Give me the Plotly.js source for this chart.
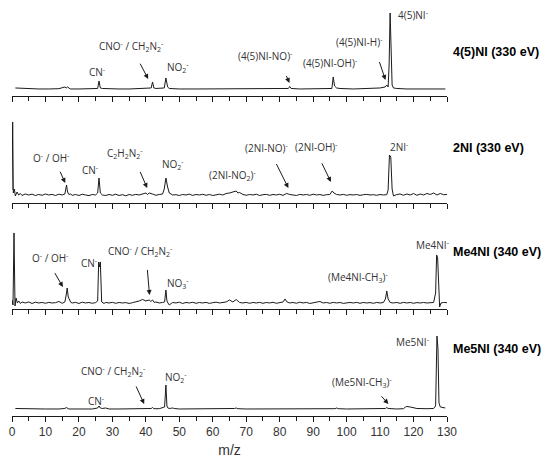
<!DOCTYPE html>
<html>
<head>
<meta charset="utf-8">
<script src="https://cdn.plot.ly/plotly-3.0.1.min.js"></script>
<style>
  html, body { margin: 0; padding: 0; background: #fff; }
  #plot { width: 550px; height: 465px; }
</style>
</head>
<body>
<div id="plot"></div>
<script>
// spectra: [m/z, intensity] (arbitrary units, baseline = 0)
const spec45NI = [[1,1],[3,0.5],[5,0],[8,0],[11,0],[14,0.3],[15.8,2],[16.2,1],[16.6,2],[17,0.5],[17.4,0],[20,0],[24,0],
  [25.6,0.5],[26,8],[26.4,1],[27,0.5],[29,0],[32,0],[35,0],[38,0.5],[40,0.5],[41.6,1],[42,7],[42.4,1],[43,0.5],
  [45.5,1],[46,11],[46.5,2],[47,0.5],[50,0],[55,0],[60,0],[65,0.5],[70,0],[75,0],[80,0],[82.6,0.5],[83,2.5],[83.4,0.5],
  [86,0],[90,0],[95.6,0.5],[96,12],[96.4,3],[97,1],[98,0.5],[102,0],[106,0.5],[110,1],[111.5,2],[112,4],[112.4,2],
  [112.7,24],[113,76],[113.3,24],[113.6,4],[114,1],[115,0.5],[118,0],[122,0],[126,0],[129.5,0]];

const spec2NI = [[0,5],[0.2,73],[0.4,2],[0.7,6],[1,-1],[1.5,3],[2,0],[2.5,1.5],[3,-0.5],[4,1],[5,0],[6,0.8],[7,-0.5],
  [8,0.5],[9,-0.3],[10,1],[11,0],[12,0.6],[13,-0.5],[14,0.8],[15,0],[15.8,1],[16.3,10],[16.6,3],[17,0.5],[17.5,1],
  [18,-0.3],[19,0.5],[20,-0.5],[21,0.7],[22,0],[23,-0.6],[24,0.5],[25,0],[25.6,2],[26,17],[26.4,2],[27,0],[28,-0.5],
  [29,0.5],[30,-0.3],[31,0.8],[32,-0.5],[33,0.3],[34,-0.8],[35,0.5],[36,-0.3],[37,0.6],[38,0],[39,1],[40,2],[40.5,0.5],
  [41,2],[42,1],[43,-0.3],[44,0.5],[45,1],[45.5,6],[46,17],[46.5,8],[47,2],[48,0],[49,0.3],[50,-0.5],[51,0.5],[52,0],
  [53,0.8],[54,-0.4],[55,0.5],[56,0],[57,0.7],[58,-0.3],[59,0.5],[60,-0.5],[61,0.3],[62,0.8],[63,0],[64,1.5],[65,2],
  [66,3],[67,4],[67.5,2],[68,2.5],[69,0.5],[70,-0.3],[71,0.5],[72,0],[73,0.8],[74,-0.5],[75,0.3],[76,0.6],[77,-0.3],
  [78,0.5],[79,0],[80,0.7],[81,-0.4],[82,1.5],[83,0.5],[84,0.3],[85,-0.5],[86,0.6],[87,0],[88,0.5],[89,-0.3],[90,0.8],
  [91,0],[92,0.5],[93,-0.4],[94,0.3],[95,0.5],[95.7,4],[96.2,2],[97,0.5],[98,0],[99,0.6],[100,-0.3],[101,0.4],[102,0],
  [103,0.5],[104,-0.4],[105,0.3],[106,0.6],[107,0],[108,0.3],[109,-0.3],[110,0.5],[111,0],[112,0.3],[112.4,5],
  [112.8,40],[113.2,38],[113.6,6],[114,-1],[115,0.5],[116,1],[117,-0.3],[118,1],[119,0],[120,1.5],[121,-0.3],[122,1],
  [123,0],[124,1.5],[125,0.5],[126,2],[127,0],[128,1.5],[129,0.3],[130,0.5]];

const specMe4NI = [[0,3],[0.3,-2],[0.6,70],[0.9,-3],[1.2,5],[1.6,0],[2,2],[2.5,-0.5],[3,1],[4,0],[5,1],[6,-0.5],[7,0.8],
  [8,0],[9,0.5],[10,-0.3],[11,0.6],[12,0],[13,0.3],[14,1.5],[15,-0.3],[15.8,1],[16.2,8],[16.5,15],[16.8,6],[17.2,3],
  [17.6,0.5],[18,0],[19,0.6],[20,-0.5],[21,0.8],[22,0],[23,0.5],[24,-0.3],[25,0.4],[25.6,2],[25.9,41],[26.1,36],
  [26.4,41],[26.8,1],[27.5,-0.5],[28,0.5],[29,0],[30,0.6],[31,-0.3],[32,0.5],[33,0],[34,0.4],[35,-0.5],[36,0.3],[37,1],
  [38,2],[39,3.5],[40,2],[41,3],[41.5,1.5],[42,3],[42.5,0.5],[43,1],[44,0],[45,0.5],[45.6,1],[46,13],[46.3,2],[46.6,0],
  [47,-2],[48,0.5],[49,0],[50,0.8],[51,-0.5],[52,0.5],[53,0],[54,0.7],[55,-0.3],[56,0.5],[57,0],[58,0.6],[59,-0.4],
  [60,0.3],[61,0.8],[62,0],[63,0.5],[64,1],[65,3],[66,1],[67,3.5],[68,0.5],[69,0],[70,0.6],[71,-0.3],[72,0.5],[73,0],
  [74,0.6],[75,-0.3],[76,0.5],[77,0],[78,0.7],[79,-0.3],[80,0.5],[81,1],[81.6,4],[82.2,1],[83,0],[84,0.5],[85,-0.3],
  [86,0.8],[87,0],[88,0.6],[89,-0.5],[90,0.4],[91,0.6],[92,1.5],[93,0],[94,0.5],[95,-0.3],[96,0.6],[97,0],[98,0.5],
  [99,-0.4],[100,0.3],[101,0.5],[102,0],[103,0.6],[104,-0.3],[105,0.5],[106,0],[107,0.4],[108,-0.3],[109,0.5],[110,0],
  [111,0.5],[111.6,4],[112,12],[112.4,4],[113,0.5],[114,0],[115,0.5],[116,-0.3],[117,0.6],[118,0],[119,0.5],[120,-0.3],
  [121,0.4],[122,0],[123,0.5],[124,0],[125,0.3],[126,0.5],[126.6,10],[126.9,48],[127.2,45],[127.5,8],[127.8,-4],
  [128.2,0],[129,0.5],[130,0.3]];

const specMe5NI = [[1,0.5],[5,0],[10,0],[14,0],[15.8,0.5],[16.2,1.5],[16.6,1],[17,0],[20,0],[24,0],[25.6,1],[26,3],
  [26.4,1],[27,0.5],[28,1],[29,0],[32,0],[36,0],[40,0],[41.6,0.5],[42,1.5],[42.4,0.3],[44,0.3],[45.6,2],[46,24],[46.3,3],
  [46.6,1],[47,0.5],[48,1],[48.5,0.5],[50,0],[55,0],[60,0],[66.5,0.5],[67,1],[67.5,0.3],[70,0],[75,0],[80,0],[84,0.5],
  [85,0],[90,0],[96.5,0.3],[97,1],[97.5,0.3],[100,0],[105,0],[110,0],[111.6,0.5],[112,1.5],[112.4,0.5],[115,0],
  [117,0.3],[117.6,2],[118,2.5],[119,2],[120,1.5],[121,0.5],[124,0.3],[126,0.5],[126.6,3],[127,73],[127.3,60],
  [127.6,6],[128,2],[128.5,1.5],[129.5,1]];

const panelNames = ['4(5)NI (330 eV)', '2NI (330 eV)', 'Me4NI (340 eV)', 'Me5NI (340 eV)'];

// peak labels per panel: [text, m/z, height]
const labels45NI = [['CN<sup>-</sup>',25.5,17],['CNO<sup>-</sup> / CH<sub>2</sub>N<sub>2</sub><sup>-</sup>',35.6,42],
  ['NO<sub>2</sub><sup>-</sup>',49.5,21],['(4(5)NI-NO)<sup>-</sup>',75.5,33],['(4(5)NI-OH)<sup>-</sup>',95.1,26],
  ['(4(5)NI-H)<sup>-</sup>',103.6,47],['4(5)NI<sup>-</sup>',119.9,74]];
const labels2NI = [['O<sup>-</sup> / OH<sup>-</sup>',11.7,37],['CN<sup>-</sup>',23.4,25],
  ['C<sub>2</sub>H<sub>2</sub>N<sub>2</sub><sup>-</sup>',33.9,42],['NO<sub>2</sub><sup>-</sup>',48,31],
  ['(2NI-NO<sub>2</sub>)<sup>-</sup>',65.8,20],['(2NI-NO)<sup>-</sup>',76,47],['(2NI-OH)<sup>-</sup>',91,48],
  ['2NI<sup>-</sup>',115.6,48]];
const labelsMe4NI = [['O<sup>-</sup> / OH<sup>-</sup>',11.3,45],['CN<sup>-</sup>',23.1,40],
  ['CNO<sup>-</sup> / CH<sub>2</sub>N<sub>2</sub><sup>-</sup>',38.3,51],['NO<sub>3</sub><sup>-</sup>',49.7,19],
  ['(Me4NI-CH<sub>3</sub>)<sup>-</sup>',103.3,25],['Me4NI<sup>-</sup>',125.6,58]];
const labelsMe5NI = [['CN<sup>-</sup>',25.2,8],['CNO<sup>-</sup> / CH<sub>2</sub>N<sub>2</sub><sup>-</sup>',30.3,37],
  ['NO<sub>2</sub><sup>-</sup>',49.1,31],['(Me5NI-CH<sub>3</sub>)<sup>-</sup>',104.7,26],['Me5NI<sup>-</sup>',119.7,67]];

// arrows: [m/z of head, height of head, tail dx, tail dy]
const arrows45NI = [[40.7,10,-11,-21],[82.9,6,-6,-14],[111.6,9,-9,-27]];
const arrows2NI = [[15.9,12,-8,-18],[40.4,7,-10,-23],[82.6,7,-15,-30],[95.3,13,-12,-25]];
const arrowsMe4NI = [[15.2,16,-11,-19],[41.1,8,-3,-35]];
const arrowsMe5NI = [[39.5,5,-11,-24],[112.5,5,-10,-11]];

const spectra = [spec45NI, spec2NI, specMe4NI, specMe5NI];
const peakLabels = [labels45NI, labels2NI, labelsMe4NI, labelsMe5NI];
const peakArrows = [arrows45NI, arrows2NI, arrowsMe4NI, arrowsMe5NI];

const domains = [[0.77, 1.0], [0.513, 0.736], [0.257, 0.466], [0, 0.207]];
const yRanges = [[-6.7, 89], [-7.6, 85.2], [-6.1, 80.8], [-7, 79.1]];
const nameY = [0.897, 0.644, 0.394, 0.139];

const data = [];
const layout = {
  width: 550,
  height: 465,
  margin: {l: 12, r: 103, t: 0, b: 49},
  paper_bgcolor: '#fff',
  plot_bgcolor: '#fff',
  showlegend: false,
  annotations: []
};

const labelFont = {family: 'Open Sans, sans-serif', size: 10, color: '#333'};

for (let i = 0; i < 4; i++) {
  const n = i === 0 ? '' : String(i + 1);
  data.push({
    x: spectra[i].map(p => p[0]),
    y: spectra[i].map(p => p[1]),
    xaxis: 'x' + n,
    yaxis: 'y' + n,
    type: 'scatter',
    mode: 'lines',
    line: {color: '#1a1a1a', width: 1},
    hoverinfo: 'skip'
  });

  layout['xaxis' + n] = {
    domain: [0, 1],
    anchor: 'y' + n,
    range: [0, 130],
    showline: true,
    linecolor: '#1a1a1a',
    linewidth: 1,
    ticks: 'outside',
    ticklen: 5,
    tickcolor: '#1a1a1a',
    tick0: 0,
    dtick: 10,
    minor: {dtick: 5, ticks: 'outside', ticklen: 4, tickcolor: '#1a1a1a', showgrid: false},
    showgrid: false,
    zeroline: false,
    showticklabels: i === 3,
    tickfont: {family: 'Liberation Sans, Arial, sans-serif', size: 12, color: '#333'},
    title: i === 3 ? {text: 'm/z', font: {family: 'Liberation Sans, Arial, sans-serif', size: 14, color: '#333'}, standoff: 6} : {text: ''}
  };
  layout['yaxis' + n] = {
    domain: domains[i],
    anchor: 'x' + n,
    range: yRanges[i],
    visible: false,
    fixedrange: true
  };

  for (const lab of peakLabels[i]) {
    layout.annotations.push({
      xref: 'x' + n, yref: 'y' + n,
      x: lab[1], y: lab[2],
      text: lab[0],
      showarrow: false,
      font: labelFont
    });
  }
  for (const a of peakArrows[i]) {
    layout.annotations.push({
      xref: 'x' + n, yref: 'y' + n,
      x: a[0], y: a[1],
      ax: a[2], ay: a[3],
      text: ' ',
      showarrow: true,
      arrowhead: 2,
      arrowsize: 1,
      arrowwidth: 1,
      arrowcolor: '#1a1a1a'
    });
  }
  layout.annotations.push({
    xref: 'paper', yref: 'paper',
    x: 1.01, y: nameY[i],
    xanchor: 'left',
    text: '<b>' + panelNames[i] + '</b>',
    showarrow: false,
    font: {family: 'Liberation Sans, Arial, sans-serif', size: 12.5, color: '#000'}
  });
}

Plotly.newPlot('plot', data, layout, {staticPlot: true});
</script>
</body>
</html>
